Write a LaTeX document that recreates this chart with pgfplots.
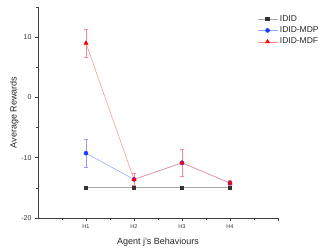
\documentclass[border=0pt]{standalone}
\usepackage{fontspec}
\setmainfont{Liberation Sans}
\usepackage{pgfplots}
\pgfplotsset{compat=1.18}
\definecolor{ididM}{HTML}{333333}
\definecolor{ididL}{HTML}{A8A8A8}
\definecolor{mdpM}{HTML}{1E3CFF}
\definecolor{mdpL}{HTML}{8CA0FF}
\definecolor{mdfM}{HTML}{FF0000}
\definecolor{mdfL}{HTML}{FF8C8C}
\begin{document}
\begin{tikzpicture}
\begin{axis}[
  scale only axis, width=240pt, height=211pt,
  xmin=0, xmax=5, ymin=-20, ymax=15,
  axis x line*=bottom, axis y line*=left,
  axis line style={draw=black!75, line width=0.9pt},
  tick align=outside, tick style={black!75, line width=0.7pt},
  major tick length=3pt, minor tick length=2pt,
  xtick={1,2,3,4}, xticklabels={H1,H2,H3,H4},
  minor xtick={0.5,1.5,2.5,3.5,4.5},
  extra x ticks={5}, extra x tick labels={},
  ytick={-20,-10,0,10}, minor ytick={-15,-5,5,15},
  /pgf/number format/assume math mode=true,
  x tick label style={font=\fontsize{5.5}{6}\selectfont, text=black!80},
  y tick label style={font=\fontsize{7}{8}\selectfont, text=black!80},
  xlabel={Agent j's Behaviours}, ylabel={Average Rewards},
  label style={font=\fontsize{9}{10}\selectfont, text=black!85},
  xlabel style={yshift=3pt},
  ylabel style={yshift=-4pt},
  legend style={draw=none, fill=none, at={(0.9,0.98)}, anchor=north west,
    font=\fontsize{8.5}{10}\selectfont, row sep=0pt, text=black!85},
  legend cell align=left,
  legend image code/.code={
    \draw[#1, mark=none] (0cm,0cm) -- (0.7cm,0cm);
    \draw[#1, only marks] plot coordinates {(0.35cm,0cm)};
  },
]
\addplot[color=ididL, line width=0.8pt, mark=square*, mark size=1.8pt,
  mark options={fill=ididM, draw=ididM}]
  coordinates {(1,-15) (2,-15) (3,-15) (4,-15)};
\addlegendentry{IDID}
\addplot[color=mdpL, line width=0.5pt, mark=*, mark size=2pt,
  mark options={fill=mdpM, draw=mdpM},
  error bars/.cd, y dir=both, y explicit,
  error bar style={color=mdpL, line width=0.6pt}, error mark options={rotate=90, mark size=2pt, color=mdpL}]
  coordinates {(1,-9.25) +- (0,2.3) (2,-13.6) +- (0,1.0) (3,-10.85) +- (0,2.2) (4,-14.2) +- (0,0.4)};
\addlegendentry{IDID-MDP}
\addplot[color=mdfL, line width=0.5pt, mark=triangle*, mark size=2.4pt,
  mark options={fill=mdfM, draw=mdfM},
  error bars/.cd, y dir=both, y explicit,
  error bar style={color=mdfL, line width=0.6pt}, error mark options={rotate=90, mark size=2pt, color=mdfL}]
  coordinates {(1,9.0) +- (0,2.3) (2,-13.6) +- (0,1.0) (3,-10.85) +- (0,2.2) (4,-14.2) +- (0,0.4)};
\addlegendentry{IDID-MDF}
\end{axis}
\path (current axis.south west) ++(-38pt,-32pt) rectangle ++(327pt,250pt);
\end{tikzpicture}
\end{document}
